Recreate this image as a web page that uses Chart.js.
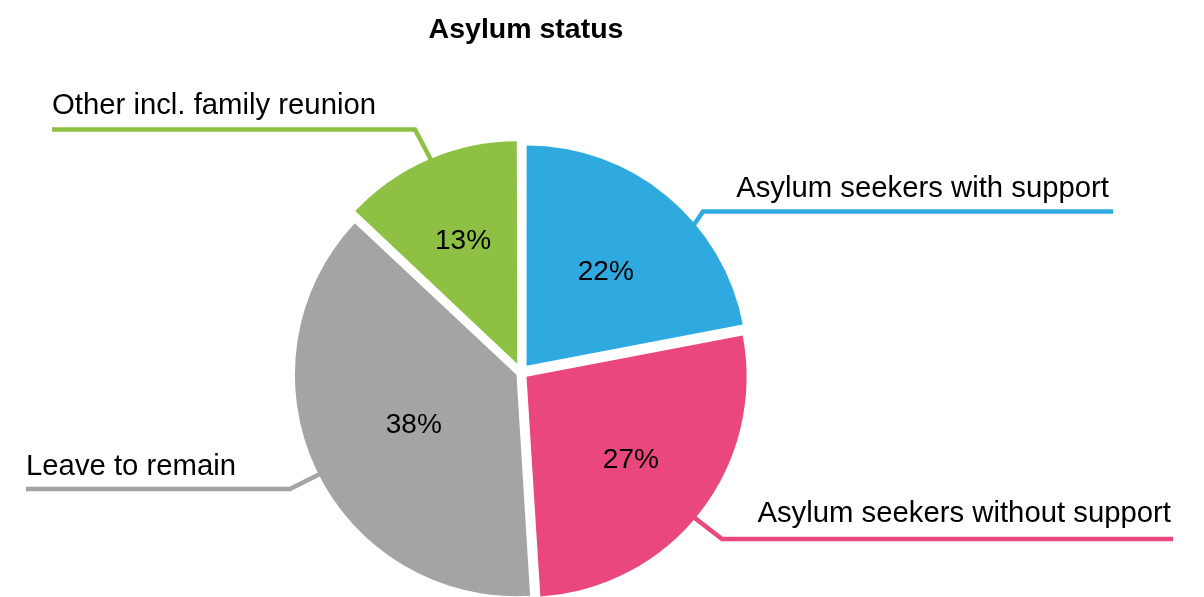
<!DOCTYPE html>
<html>
<head>
<meta charset="utf-8">
<title>Asylum status</title>
<script src="https://cdn.jsdelivr.net/npm/chart.js@4.4.1/dist/chart.umd.min.js"></script>
<style>
  html, body { margin: 0; padding: 0; background: #fff; }
  #wrap { width: 1204px; height: 597px; }
</style>
</head>
<body>
<div id="wrap"><canvas id="asylumChart" width="1204" height="597"></canvas></div>
<script>
// Data
const categories = [
    'Asylum seekers with support',
    'Asylum seekers without support',
    'Leave to remain',
    'Other incl. family reunion'
];
const shares = [22, 27, 38, 13];
const shareLabels = ['22%', '27%', '38%', '13%'];
const sliceColors = ['#2eaae1', '#e9477e', '#a4a4a4', '#8dc043'];

const FONT = '"Liberation Sans", Arial, Helvetica, sans-serif';

// Slices are pulled out a bit (chart.js moves a slice by offset / 4)
const sliceOffsets = [35, 28, 20, 38];
// where the % label sits, as a share of the radius
const pctRadius = [0.565, 0.60, 0.516, 0.62];
// leader lines: angle tweak (deg) from the slice middle, elbow, end, text anchor
const callouts = [
    { angle: 10.2, elbow: [703, 211.5], end: [1113, 211.5], text: [1109, 197], align: 'right' },
    { angle: 2.2, elbow: [722, 539], end: [1173, 539], text: [1171, 522], align: 'right' },
    { angle: -1.6, elbow: [290, 489], end: [26, 489], text: [26, 475], align: 'left' },
    { angle: 0.5, elbow: [415, 129.5], end: [52, 129.5], text: [52, 114], align: 'left' }
];

const sliceText = {
    id: 'sliceText',
    afterDatasetsDraw(chart) {
        const ctx = chart.ctx;
        const arcs = chart.getDatasetMeta(0).data;
        ctx.save();
        arcs.forEach((arc, i) => {
            const p = arc.getProps(['x', 'y', 'startAngle', 'endAngle', 'outerRadius']);
            const mid = (p.startAngle + p.endAngle) / 2;
            const shift = (arc.options.offset || 0) / 4;
            const cx = p.x + Math.cos(mid) * shift;
            const cy = p.y + Math.sin(mid) * shift;

            // leader line, starting a little inside the slice
            const c = callouts[i];
            const a = mid + c.angle * Math.PI / 180;
            const sx = cx + Math.cos(a) * p.outerRadius;
            const sy = cy + Math.sin(a) * p.outerRadius;
            const dx = sx - c.elbow[0];
            const dy = sy - c.elbow[1];
            const len = Math.hypot(dx, dy);
            ctx.beginPath();
            ctx.moveTo(sx + dx / len * 12, sy + dy / len * 12);
            ctx.lineTo(c.elbow[0], c.elbow[1]);
            ctx.lineTo(c.end[0], c.end[1]);
            ctx.strokeStyle = sliceColors[i];
            ctx.lineWidth = 4.5;
            ctx.lineCap = 'butt';
            ctx.lineJoin = 'miter';
            ctx.stroke();

            // category name
            ctx.fillStyle = '#000';
            ctx.font = '29.3px ' + FONT;
            ctx.textAlign = c.align;
            ctx.textBaseline = 'alphabetic';
            ctx.fillText(categories[i], c.text[0], c.text[1]);

            // percentage
            const r = pctRadius[i] * p.outerRadius;
            ctx.font = '28px ' + FONT;
            ctx.textAlign = 'center';
            ctx.fillText(shareLabels[i], cx + Math.cos(mid) * r, cy + Math.sin(mid) * r + 10);
        });

        // title
        ctx.font = 'bold 28.5px ' + FONT;
        ctx.textAlign = 'center';
        ctx.fillStyle = '#000';
        ctx.fillText('Asylum status', 526, 38);
        ctx.restore();
    }
};

const asylumCtx = document.getElementById('asylumChart').getContext('2d');
const asylumChart = new Chart(asylumCtx, {
    type: 'pie',
    data: {
        labels: categories,
        datasets: [{
            data: shares,
            backgroundColor: sliceColors,
            borderWidth: 0,
            offset: sliceOffsets,
            hoverOffset: 0
        }]
    },
    options: {
        responsive: false,
        animation: false,
        devicePixelRatio: 1,
        radius: 220,
        layout: {
            padding: { left: 0, right: 162, top: 148, bottom: 0 }
        },
        plugins: {
            legend: { display: false },
            tooltip: { enabled: false },
            title: { display: false }
        },
        events: []
    },
    plugins: [sliceText]
});
</script>
</body>
</html>
